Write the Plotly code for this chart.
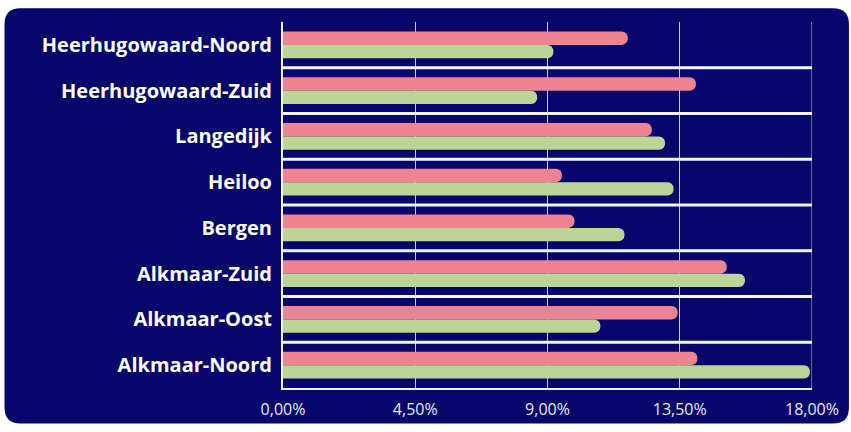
import plotly.graph_objects as go

categories = ["Heerhugowaard-Noord", "Heerhugowaard-Zuid", "Langedijk", "Heiloo",
              "Bergen", "Alkmaar-Zuid", "Alkmaar-Oost", "Alkmaar-Noord"]
pink_values = [11.73, 14.05, 12.55, 9.49, 9.92, 15.10, 13.43, 14.10]
green_values = [9.20, 8.65, 13.00, 13.29, 11.62, 15.72, 10.80, 17.93]
tick_values = [0, 4.5, 9, 13.5, 18]
tick_labels = ["0,00%", "4,50%", "9,00%", "13,50%", "18,00%"]

NAVY = "#06066B"
PINK = "#EE8392"
GREEN = "#BCD596"

W, H = 851, 432
ML, MR, MT, MB = 283, 38, 22, 38
PW, PH = W - ML - MR, H - MT - MB

def px(x):
    return (x - ML) / PW

def py(y):
    return (H - MB - y) / PH

fig = go.Figure()
fig.add_trace(go.Bar(y=categories, x=pink_values, orientation="h",
                     marker=dict(color=PINK, cornerradius="50%", line=dict(width=0)),
                     hoverinfo="skip"))
fig.add_trace(go.Bar(y=categories, x=green_values, orientation="h",
                     marker=dict(color=GREEN, cornerradius="50%", line=dict(width=0)),
                     hoverinfo="skip"))

# rounded navy card behind the chart
x0, x1, y0, y1, r = 4, 850, 8, 430, 16
path = (f"M {px(x0 + r)},{py(y0)} L {px(x1 - r)},{py(y0)} "
        f"Q {px(x1)},{py(y0)} {px(x1)},{py(y0 + r)} "
        f"L {px(x1)},{py(y1 - r)} Q {px(x1)},{py(y1)} {px(x1 - r)},{py(y1)} "
        f"L {px(x0 + r)},{py(y1)} Q {px(x0)},{py(y1)} {px(x0)},{py(y1 - r)} "
        f"L {px(x0)},{py(y0 + r)} Q {px(x0)},{py(y0)} {px(x0 + r)},{py(y0)} Z")
shapes = [dict(type="path", xref="paper", yref="paper", path=path,
               fillcolor=NAVY, line=dict(width=0), layer="below")]

n = len(categories)
for i in range(n - 1):
    shapes.append(dict(type="line", xref="x", yref="y", x0=0, x1=tick_values[-1],
                       y0=i + 0.5, y1=i + 0.5, line=dict(color="#F4F4FF", width=3),
                       layer="above"))
shapes.append(dict(type="line", xref="x", yref="paper", x0=tick_values[-1], x1=tick_values[-1],
                   y0=0, y1=1, line=dict(color="#C9C9E0", width=1), layer="below"))

fig.update_layout(
    width=W, height=H,
    margin=dict(l=ML, r=MR, t=MT, b=MB),
    paper_bgcolor="white",
    plot_bgcolor="rgba(0,0,0,0)",
    barmode="group", bargap=0.42, bargroupgap=0,
    showlegend=False,
    shapes=shapes,
    xaxis=dict(range=[0, tick_values[-1]], tickvals=tick_values, ticktext=tick_labels,
               showgrid=True, gridcolor="#C9C9E0", gridwidth=1,
               showline=True, linecolor="#F4F4FF", linewidth=2,
               zeroline=False, ticks="",
               tickfont=dict(family="Open Sans", size=16, color="#E8E8F2"),
               ticklabelstandoff=6, fixedrange=True),
    yaxis=dict(range=[n - 0.5, -0.5], showgrid=False, zeroline=False,
               showline=True, linecolor="#F4F4FF", linewidth=2, ticks="",
               tickfont=dict(family="Open Sans", size=20, color="white", weight="bold"),
               ticklabelstandoff=5, fixedrange=True),
)

fig.write_html("out.html", config={"displayModeBar": False},
               post_script="document.body.style.margin='0';document.body.style.overflow='hidden';")
